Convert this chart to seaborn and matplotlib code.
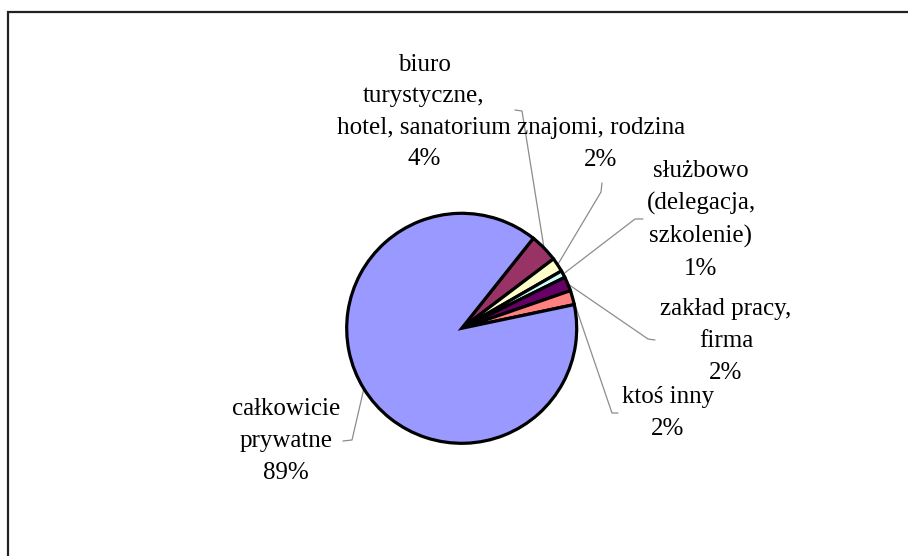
import numpy as np
import matplotlib
matplotlib.use("Agg")
import matplotlib.pyplot as plt
import seaborn as sns

# --- data (slice order clockwise from the top-right boundary) ---
categories = [
    "biuro\nturystyczne,\nhotel, sanatorium",
    "znajomi, rodzina",
    "służbowo\n(delegacja,\nszkolenie)",
    "zakład pracy,\nfirma",
    "ktoś inny",
    "całkowicie\nprywatne",
]
shares = [4, 2, 1, 2, 2, 89]
colors = ["#993366", "#FFFFCC", "#CCFFFF", "#660066", "#FF8080", "#9999FF"]

# --- layout (pixel coordinates, y measured from the top) ---
W, H = 908, 556
CENTER = (461.7, 328.3)
RADIUS = 115
START = 51.5
label_xy = [(424, 112), (601, 144), (701, 220), (726, 341), (668, 413), (286, 441)]
elbow = [  # stub end next to the label, stub start
    ((515, 110), (522, 111)),
    ((602, 183), (601, 192)),
    ((643, 219), (635, 219)),
    ((655, 340), (648, 339)),
    ((618, 413), (612, 413)),
    ((343, 441), (352, 440)),
]

sns.set_theme(style="white")
plt.rcParams["font.family"] = ["Liberation Serif", "DejaVu Serif"]

fig = plt.figure(figsize=(W / 100, H / 100), dpi=100)
ax = fig.add_axes([0, 0, 1, 1])


def fy(y):
    return H - y


wedges, _ = ax.pie(
    shares,
    colors=colors,
    startangle=START,
    counterclock=False,
    center=(CENTER[0], fy(CENTER[1])),
    radius=RADIUS,
    wedgeprops=dict(edgecolor="black", linewidth=2.3),
)
ax.set_xlim(0, W)
ax.set_ylim(0, H)
ax.set_aspect("equal")
ax.axis("off")

# labels and leader lines
for w, name, val, (lx, ly), (p_far, p_near) in zip(wedges, categories, shares, label_xy, elbow):
    ax.text(lx, fy(ly), f"{name}\n{val}%", ha="center", va="center",
            fontsize=18, linespacing=1.56, color="black")
    mid = np.deg2rad((w.theta1 + w.theta2) / 2)
    ex = CENTER[0] + RADIUS * np.cos(mid)
    ey = fy(CENTER[1]) + RADIUS * np.sin(mid)
    ax.plot([p_far[0], p_near[0], ex], [fy(p_far[1]), fy(p_near[1]), ey],
            color="#8c8c8c", linewidth=0.9, zorder=0)

# chart frame (only top and left edges fall inside the picture)
ax.plot([8, 8, W + 5], [-5, fy(11.5), fy(11.5)], color="#222222",
        linewidth=1.6, solid_joinstyle="miter", clip_on=False)

fig.savefig("out.png", dpi=100, facecolor="white")
